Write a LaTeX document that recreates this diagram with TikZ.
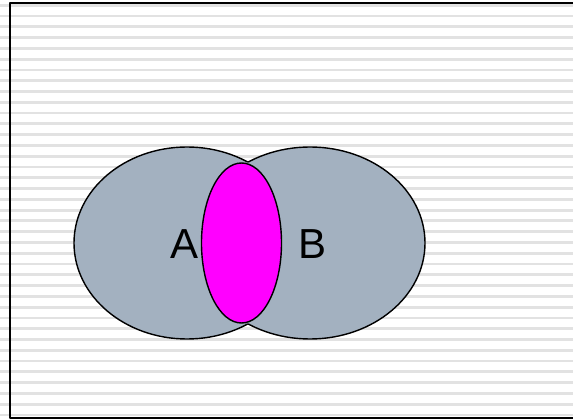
\documentclass[tikz,border=0pt]{standalone}
\usepackage{fontspec}
\setmainfont{Liberation Sans}
\definecolor{setgray}{HTML}{A3B1C0}
\definecolor{stripe}{HTML}{E2E2E2}
\definecolor{lens}{RGB}{255,0,255}
\begin{document}
\begin{tikzpicture}[x=1pt, y=-1pt, line join=round, line cap=round,
	outline/.style={draw=black, line width=1.4pt},
	label/.style={font=\fontsize{42}{42}\selectfont, inner sep=0pt}]
	\def\setA{(187,243) ellipse (113 and 96)}
	\def\setB{(310,243) ellipse (115 and 96)}
	\useasboundingbox (0,0) rectangle (573,419);
	\fill[white] (0,0) rectangle (573,419);
	% striped background
	\foreach \i in {0,...,38}
	\draw[stripe, line width=2.8pt, line cap=butt] (0, {5.3+10.78*\i}) -- (573, {5.3+10.78*\i});
	% frame, open on the right
	\draw[line width=2pt, line cap=butt] (573,3) -- (10,3) -- (10,418) -- (573,418);
	% the two sets, outlines only on the outer border
	\fill[setgray] \setA;
	\fill[setgray] \setB;
	\begin{scope}[even odd rule]
		\clip (0,0) rectangle (573,419) \setB;
		\draw[outline] \setA;
	\end{scope}
	\begin{scope}[even odd rule]
		\clip (0,0) rectangle (573,419) \setA;
		\draw[outline] \setB;
	\end{scope}
	% intersection
	\draw[outline, fill=lens] (241.5,243) ellipse (40 and 80);
	\node[label] (A) at (185,244) {A};
	\node[label] (B) at (313,244) {B};
\end{tikzpicture}
\end{document}
